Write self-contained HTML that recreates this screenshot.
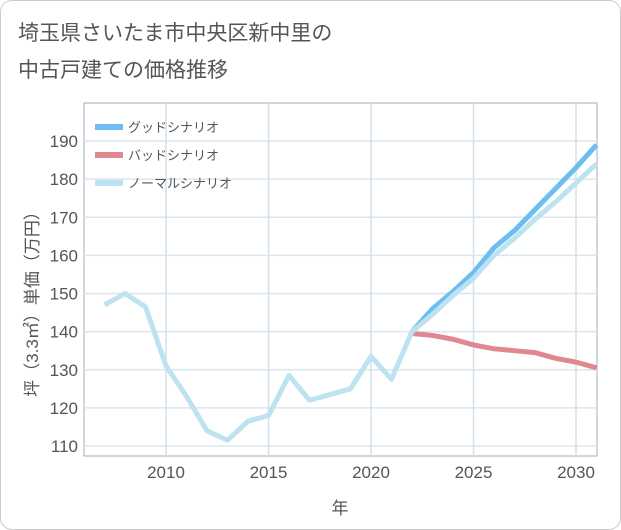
<!DOCTYPE html>
<html><head><meta charset="utf-8"><style>
body{margin:0;background:#fff;font-family:"Liberation Sans","Noto Sans CJK JP",sans-serif}
#card{position:absolute;left:0;top:0;width:619px;height:528px;border:1px solid #ccc;border-radius:12px;background:#fff}
</style></head><body>
<div id="card">
<svg id="chart" width="621" height="530" style="position:absolute;left:-1px;top:-1px">
<text x="18" y="40" font-size="21" fill="#555">埼玉県さいたま市中央区新中里の</text>
<text x="18" y="77" font-size="21" fill="#555">中古戸建ての価格推移</text>
</svg></div>
<script>
const years=[2007,2008,2009,2010,2011,2012,2013,2014,2015,2016,2017,2018,2019,2020,2021,2022];
const history=[147,150,146.5,131,123,114,111.5,116.5,118,128.5,122,123.5,125,133.5,127.5,140];
const futureYears=[2022,2023,2024,2025,2026,2027,2028,2029,2030,2031];
const good=[140,146,150.5,155.5,162,166.5,172,177.5,183,189];
const normal=[140,144.5,149.5,154,160,164.5,169.5,174,179,184];
const bad=[139.5,139,138,136.5,135.5,135,134.5,133,132,130.5];
const yTicks=[110,120,130,140,150,160,170,180,190];
const xTicks=[2010,2015,2020,2025,2030];
const legendLabels=["グッドシナリオ","バッドシナリオ","ノーマルシナリオ"];
const colors=["#6bbdf2","#e08890","#bde2f0"];
const L=84,R=597,T=103,B=456;
const xS=v=>166+(v-2010)*20.5;
const yS=v=>446-(v-110)*305/80;
const svg=document.getElementById('chart');
const NS="http://www.w3.org/2000/svg";
function mk(t,a,p){const e=document.createElementNS(NS,t);for(const k in a)e.setAttribute(k,a[k]);(p||svg).appendChild(e);return e;}
const bg=mk('rect',{x:L,y:T,width:R-L,height:B-T,fill:'#fff',stroke:'#aab',"stroke-width":1});


yTicks.forEach(v=>{
 const g=mk('line',{x1:L,x2:R,y1:yS(v),y2:yS(v),stroke:'#dbe5ef',"stroke-width":1.5});
 
 
 const t=mk('text',{x:L-6,y:yS(v)+6,"text-anchor":"end","font-size":17,fill:'#555'});
 t.textContent=v;
 
 
});
xTicks.forEach(v=>{
 const g=mk('line',{x1:xS(v),x2:xS(v),y1:T,y2:B,stroke:'#d3e1ec',"stroke-width":1.5});
 
 
 const t=mk('text',{x:xS(v),y:B+22,"text-anchor":"middle","font-size":17,fill:'#555'});
 t.textContent=v;
 
 
});
function line(xs,ys,c,name){
 const p=mk('polyline',{points:xs.map((x,i)=>xS(x)+','+yS(ys[i])).join(' '),fill:'none',stroke:c,"stroke-width":5,"stroke-linejoin":"round"});
 
 
}
line(futureYears,bad,colors[1],'bad-scenario-line');
line(futureYears,good,colors[0],'good-scenario-line');
line(futureYears,normal,colors[2],'normal-scenario-line');
line(years,history,colors[2],'history-line');
legendLabels.forEach((s,i)=>{
 const y=127+i*28;
 const l=mk('line',{x1:95,x2:123,y1:y,y2:y,stroke:colors[i],"stroke-width":6});
 
 
 const t=mk('text',{x:128,y:y+5,"font-size":13,fill:'#555'});
 t.textContent=s;
 
 
});
const xt=mk('text',{x:340,y:514,"text-anchor":"middle","font-size":17,fill:'#555'});
xt.textContent='年';


const yt=mk('text',{x:0,y:0,"text-anchor":"middle","font-size":17,fill:'#555',transform:'translate(38,300) rotate(-90)'});
yt.textContent='坪（3.3㎡）単価（万円）';


</script>
</body></html>
